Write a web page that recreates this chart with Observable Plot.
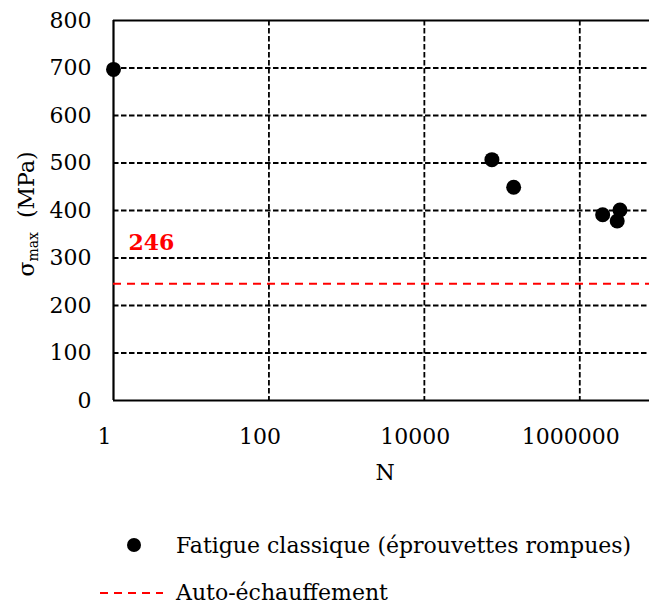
<!DOCTYPE html>
<html><head><meta charset="utf-8">
<script src="https://cdn.jsdelivr.net/npm/d3@7"></script>
<script src="https://cdn.jsdelivr.net/npm/@observablehq/plot@0.6"></script>
<style>
html,body{margin:0;padding:0;background:#fff;overflow:hidden;width:649px;height:603px;}
#wrap{position:relative;width:649px;height:603px;overflow:hidden;}
#chart svg{max-width:none !important;}
#legend{position:absolute;left:0;top:500px;width:649px;font-family:"DejaVu Serif";font-size:22px;color:#000;white-space:nowrap;}
.row{position:absolute;left:0;height:30px;display:flex;align-items:center;}
.row svg{display:block;}
</style></head><body><div id="wrap"><div id="chart"></div><div id="legend"></div></div>
<script>
// Data
const cycles = [1, 74000, 141000, 1970000, 3290000, 3030000];
const stress = [697, 507, 449, 391, 401, 378];
const xTicks = [1, 100, 10000, 1000000];
const yTicks = [0, 100, 200, 300, 400, 500, 600, 700, 800];
const thresholdValue = [246];
const seriesNames = ["Fatigue classique (éprouvettes rompues)", "Auto-échauffement"];
const xLabel = "N";

const points = cycles.map((n, i) => ({N: n, s: stress[i]}));
const grid = {stroke: "black", strokeWidth: 1.8, strokeDasharray: "5.5,2.5"};

const plot = Plot.plot({
  width: 660, height: 500,
  marginLeft: 113, marginRight: 3, marginTop: 20, marginBottom: 100,
  style: {fontFamily: "DejaVu Serif", fontSize: "22px", background: "white", color: "black", overflow: "visible", maxWidth: "none"},
  x: {type: "log", domain: [1, 1e7]},
  y: {domain: [0, 800]},
  marks: [
    Plot.ruleX(xTicks.slice(1), grid),
    Plot.ruleY(yTicks.filter(v => v > 0 && v < 800), grid),
    Plot.ruleY([800], {stroke: "black", strokeWidth: 2}),
    Plot.ruleX([1], {stroke: "black", strokeWidth: 2.2}),
    Plot.ruleY([0], {stroke: "black", strokeWidth: 2.2}),
    Plot.ruleY(thresholdValue, {stroke: "red", strokeWidth: 2, strokeDasharray: "8,6"}),
    Plot.text(thresholdValue, {y: d => d, frameAnchor: "left", dx: 15, dy: -41, text: d => String(d), fill: "red", fontWeight: "bold", fontSize: 22, textAnchor: "start"}),
    Plot.dot(points, {x: "N", y: "s", r: 7.5, fill: "black", stroke: "none"}),
    Plot.axisX({ticks: xTicks, tickFormat: d => String(d), tickSize: 0, tickPadding: 28, dx: -9, label: null}),
    Plot.axisY({ticks: yTicks, tickSize: 0, tickPadding: 22, label: null})
  ]
});

const svg = d3.select(plot);
const yl = svg.append("text")
  .attr("transform", "translate(34,214) rotate(-90)")
  .attr("text-anchor", "middle")
  .attr("font-family", "DejaVu Serif").attr("font-size", 22).attr("fill", "black");
yl.append("tspan").text("σ");
yl.append("tspan").attr("font-size", 14).attr("dy", 4).text("max");
yl.append("tspan").attr("dy", -4).text("\u00a0\u00a0(MPa)");
svg.append("text").attr("x", 385).attr("y", 480).attr("text-anchor", "middle")
  .attr("font-family", "DejaVu Serif").attr("font-size", 22).attr("fill", "black").text(xLabel);

document.getElementById("chart").appendChild(plot);

// Legend
const legend = d3.select("#legend");
const r1 = legend.append("div").attr("class", "row").style("top", "30px");
const s1 = r1.append("svg").attr("width", 176).attr("height", 30);
s1.append("circle").attr("cx", 134).attr("cy", 15).attr("r", 7).attr("fill", "black");
r1.append("span").text(seriesNames[0]);
const r2 = legend.append("div").attr("class", "row").style("top", "77px");
const s2 = r2.append("svg").attr("width", 176).attr("height", 30);
s2.append("line").attr("x1", 100).attr("x2", 163).attr("y1", 16).attr("y2", 16)
  .attr("stroke", "red").attr("stroke-width", 2).attr("stroke-dasharray", "8,6");
r2.append("span").text(seriesNames[1]);
</script>
</body></html>
